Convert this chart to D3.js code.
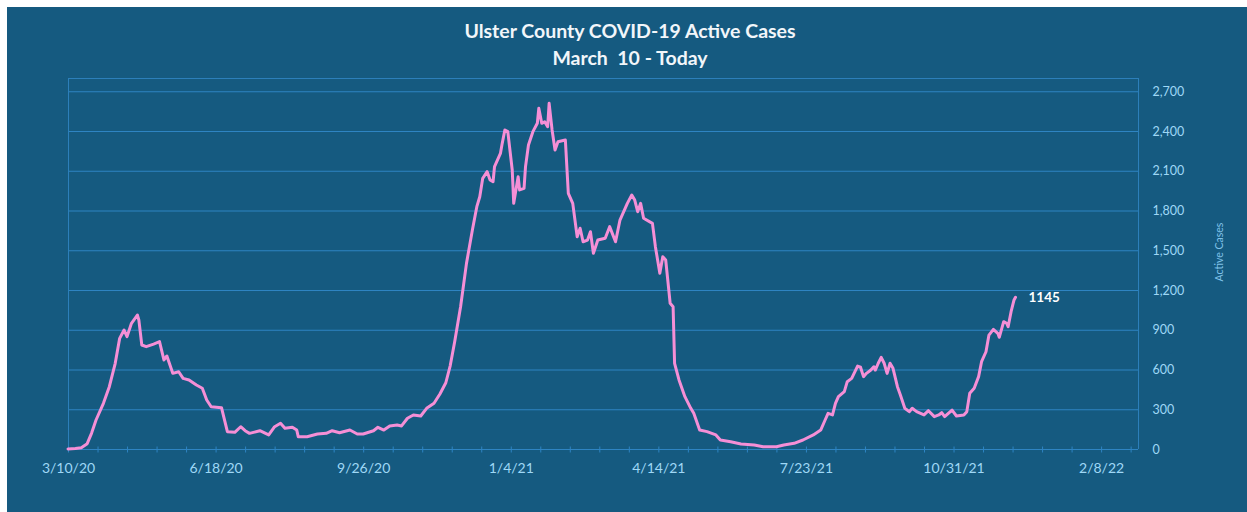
<!DOCTYPE html>
<html>
<head>
<meta charset="utf-8">
<script src="https://cdn.jsdelivr.net/npm/d3@7"></script>
<style>
  html, body { margin: 0; padding: 0; background: #ffffff; }
  svg { display: block; }
</style>
</head>
<body>
<svg id="chart" width="1247" height="512"></svg>
<script>
// ---- DATA ----
const startDate = "2020-03-10";
const titleLines = ["Ulster County COVID-19 Active Cases", "March  10 - Today"];
const yAxisTitle = "Active Cases";
const lastLabel = "1145";

// days since 3/10/20
const dayOffsets = [
  0, 5, 9, 13, 16, 19, 24, 28, 32, 35, 38, 40, 43, 47, 48, 50, 53, 58, 62, 65,
  67, 71, 75, 78, 82, 87, 91, 94, 97, 104, 108, 113, 117, 120, 123, 130, 136, 140, 144, 147,
  152, 155, 156, 162, 169, 175, 179, 184, 191, 196, 200, 207, 210, 214, 218, 223, 226, 230, 234, 239,
  243, 248, 252, 256, 259, 262, 266, 270, 274, 277, 279, 281, 284, 286, 288, 289, 293, 294, 296, 298,
  301, 302, 305, 306, 309, 310, 312, 315, 318, 319, 321, 323, 325, 326, 328, 330, 332, 337, 339, 342,
  345, 347, 349, 352, 354, 356, 359, 364, 367, 371, 374, 379, 382, 384, 386, 388, 390, 396, 398, 401,
  403, 405, 408, 410, 411, 414, 418, 422, 424, 428, 433, 439, 442, 449, 456, 465, 471, 480, 485, 492,
  498, 505, 510, 513, 515, 518, 520, 522, 526, 528, 531, 535, 537, 539, 541, 544, 546, 547, 549, 551,
  553, 555, 557, 559, 562, 564, 567, 570, 572, 575, 580, 583, 587, 590, 592, 594, 599, 602, 607, 609,
  611, 614, 617, 619, 622, 624, 627, 630, 631, 634, 636, 637, 639, 641, 642
];
const activeCases = [
  0, 3, 10, 40, 120, 219, 345, 470, 647, 835, 898, 848, 949, 1011, 974, 785, 772, 792, 810, 672,
  702, 571, 583, 533, 521, 483, 458, 370, 319, 312, 131, 126, 168, 138, 118, 138, 106, 168, 194, 156,
  164, 143, 93, 93, 113, 118, 138, 123, 143, 113, 113, 138, 164, 143, 174, 181, 174, 232, 257, 249,
  307, 345, 415, 500, 630, 810, 1074, 1401, 1653, 1829, 1904, 2043, 2093, 2030, 2017, 2131, 2231, 2294, 2408, 2395,
  2106, 1854, 2055, 1955, 1967, 2131, 2294, 2395, 2458, 2571, 2458, 2470, 2432, 2609, 2408, 2256, 2319, 2332, 1930, 1854,
  1602, 1666, 1564, 1577, 1640, 1477, 1577, 1590, 1678, 1564, 1728, 1854, 1917, 1879, 1791, 1854, 1741, 1703, 1527, 1326,
  1451, 1426, 1100, 1074, 647, 521, 395, 307, 269, 143, 131, 106, 68, 55, 38, 30, 17, 17, 30, 43,
  68, 106, 143, 219, 269, 257, 345, 395, 433, 508, 533, 626, 617, 546, 571, 596, 621, 596, 647, 692,
  647, 571, 647, 609, 470, 408, 307, 282, 307, 282, 257, 289, 244, 257, 274, 244, 294, 249, 257, 282,
  420, 458, 546, 659, 734, 860, 903, 873, 843, 961, 949, 923, 1036, 1125, 1145
];

const yTickValues = [0, 300, 600, 900, 1200, 1500, 1800, 2100, 2400, 2700];
const xTickLabels = ["3/10/20", "6/18/20", "9/26/20", "1/4/21", "4/14/21", "7/23/21", "10/31/21", "2/8/22"];

// ---- LAYOUT ----
const W = 1247, H = 512;
const plot = { left: 68, right: 1138, top: 78, bottom: 449 };
const colors = {
  bg: "#155a80",
  grid: "#2e84c2",
  frame: "#2c7fba",
  line: "#f58fd6",
  tick: "#9fd8f6",
  title: "#f2f6fa"
};
const font = "Lato, 'Open Sans', sans-serif";

const svg = d3.select("#chart");
const parse = d3.timeParse("%Y-%m-%d");
const t0 = parse(startDate);
const data = dayOffsets.map((d, i) => ({ date: d3.timeDay.offset(t0, d), value: activeCases[i] }));

// background
svg.append("rect").attr("x", 0).attr("y", 0).attr("width", W).attr("height", H).attr("fill", "#ffffff");
svg.append("rect").attr("x", 7).attr("y", 7).attr("width", W - 7).attr("height", H - 7).attr("fill", colors.bg);

const x = d3.scaleTime()
  .domain([t0, d3.timeDay.offset(t0, 725)])
  .range([plot.left, plot.right]);
const y = d3.scaleLinear()
  .domain([0, 2800])
  .range([plot.bottom, plot.top]);

// gridlines
svg.append("g").selectAll("line").data(yTickValues.filter(v => v > 0)).join("line")
  .attr("x1", plot.left).attr("x2", plot.right)
  .attr("y1", d => y(d) + 0.5).attr("y2", d => y(d) + 0.5)
  .attr("stroke", colors.grid).attr("stroke-width", 1);

// frame: top and left
svg.append("line").attr("x1", plot.left).attr("x2", plot.right).attr("y1", plot.top + 0.5).attr("y2", plot.top + 0.5)
  .attr("stroke", colors.frame).attr("stroke-width", 1);
svg.append("line").attr("x1", plot.left + 0.5).attr("x2", plot.left + 0.5).attr("y1", plot.top).attr("y2", plot.bottom)
  .attr("stroke", colors.frame).attr("stroke-width", 1);

// x axis
const labelSet = new Set(xTickLabels);
const fmt = d3.timeFormat("%-m/%-d/%y");
const xTicks = d3.range(0, 721, 20).map(d => d3.timeDay.offset(t0, d));
const xAxis = svg.append("g")
  .attr("transform", `translate(0,${plot.bottom + 0.5})`)
  .call(d3.axisBottom(x).tickValues(xTicks).tickSize(3).tickPadding(11)
    .tickFormat(d => labelSet.has(fmt(d)) ? fmt(d) : ""));
xAxis.select(".domain").attr("stroke", colors.grid).attr("d", `M${plot.left},0H${plot.right}`);
xAxis.selectAll(".tick line").attr("stroke", colors.grid).attr("y1", -3).attr("y2", 3);
xAxis.selectAll(".tick text").attr("fill", colors.tick)
  .style("font-family", font).style("font-size", "14px");

// right y axis
const yAxis = svg.append("g")
  .attr("transform", `translate(${plot.right + 0.5},0)`)
  .call(d3.axisRight(y).tickValues(yTickValues).tickSize(0).tickPadding(14).tickFormat(d3.format(",")));
yAxis.select(".domain").attr("stroke", colors.frame).attr("d", `M0,${plot.top}V${plot.bottom}`);
yAxis.selectAll(".tick text").attr("fill", colors.tick)
  .style("font-family", font).style("font-size", "12.5px");

// y axis title
svg.append("text")
  .attr("transform", `translate(1223,252) rotate(-90)`)
  .attr("text-anchor", "middle")
  .attr("fill", "#80c2e8")
  .style("font-family", font).style("font-size", "10.5px")
  .text(yAxisTitle);

// line
const line = d3.line().x(d => x(d.date)).y(d => y(d.value));
svg.append("path").datum(data)
  .attr("d", line)
  .attr("fill", "none")
  .attr("stroke", colors.line)
  .attr("stroke-width", 3)
  .attr("stroke-linejoin", "round")
  .attr("stroke-linecap", "round");

// last value label
const last = data[data.length - 1];
svg.append("text")
  .attr("x", x(last.date) + 13).attr("y", y(last.value) + 5)
  .attr("fill", "#ffffff")
  .style("font-family", font).style("font-size", "13.5px").style("font-weight", "bold")
  .text(lastLabel);

// title
svg.append("text").attr("x", 630).attr("y", 38).attr("text-anchor", "middle")
  .attr("fill", colors.title)
  .style("font-family", font).style("font-size", "19.5px").style("font-weight", "bold")
  .style("white-space", "pre")
  .text(titleLines[0]);
svg.append("text").attr("x", 630).attr("y", 65).attr("text-anchor", "middle")
  .attr("fill", colors.title)
  .style("font-family", font).style("font-size", "19.5px").style("font-weight", "bold")
  .style("white-space", "pre")
  .text(titleLines[1]);
</script>
</body>
</html>
